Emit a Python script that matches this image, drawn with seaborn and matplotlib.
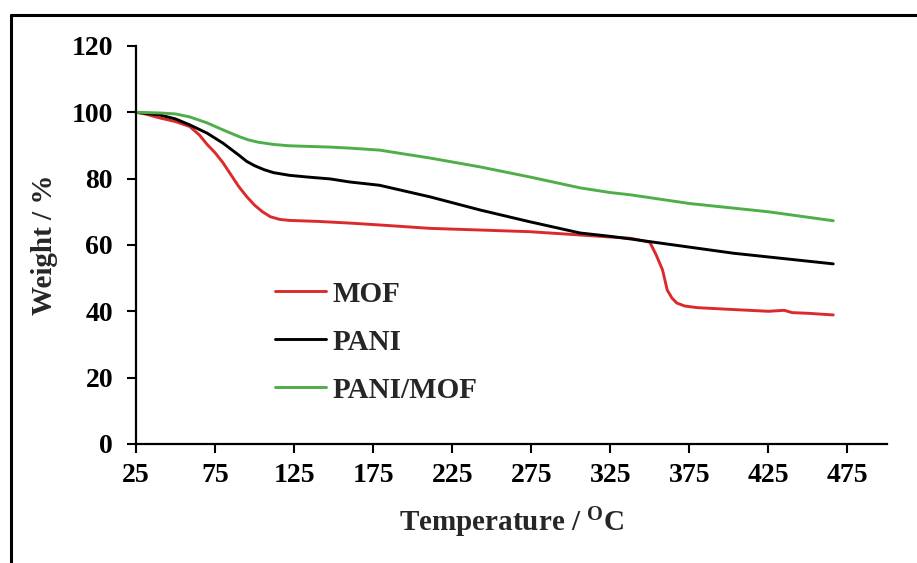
import matplotlib
matplotlib.use("Agg")
import matplotlib.pyplot as plt
import seaborn as sns
import pandas as pd
from matplotlib.lines import Line2D

# ---- data ----
mof_T = [25, 30, 40, 50, 59, 65, 70, 75, 80, 85, 90, 95, 100, 105, 110, 116, 122, 140, 160, 180, 211,
         243, 274, 306, 325, 338, 350, 354, 358, 361, 364, 367, 372, 380, 400, 425, 435, 440, 450, 466]
mof_W = [100, 99.6, 98.3, 97.2, 95.7, 93.2, 90.3, 87.8, 84.8, 81.2, 77.6, 74.6, 72.0, 70.0, 68.5, 67.7,
         67.4, 67.1, 66.6, 66.0, 65.0, 64.5, 64.0, 63.0, 62.4, 62.0, 60.8, 57.0, 52.5, 46.4, 44.0, 42.5,
         41.6, 41.1, 40.6, 40.0, 40.3, 39.6, 39.4, 38.9]

pani_T = [25, 40, 50, 59, 70, 80, 90, 95, 100, 106, 112, 122, 133, 148, 160, 179, 211, 243, 274, 306,
          325, 338, 350, 403, 466]
pani_W = [100, 99.2, 98.0, 96.2, 93.7, 90.7, 87.1, 85.2, 83.9, 82.7, 81.8, 81.0, 80.5, 79.9, 79.0, 78.0,
          74.5, 70.5, 67.0, 63.6, 62.6, 61.8, 61.0, 57.5, 54.3]

pm_T = [25, 40, 50, 59, 70, 80, 90, 96, 102, 112, 122, 148, 160, 179, 211, 243, 274, 306, 325, 338,
        375, 425, 466]
pm_W = [100, 99.8, 99.5, 98.6, 96.8, 94.7, 92.7, 91.7, 91.0, 90.3, 89.9, 89.5, 89.2, 88.6, 86.2, 83.5,
        80.5, 77.2, 75.8, 75.1, 72.5, 70.0, 67.3]

series = ["MOF", "PANI", "PANI/MOF"]
colors = ["#dc2a2c", "#000000", "#4fae48"]

x_ticks = [25, 75, 125, 175, 225, 275, 325, 375, 425, 475]
y_ticks = [0, 20, 40, 60, 80, 100, 120]

df = pd.concat([
    pd.DataFrame({"T": mof_T, "W": mof_W, "s": "MOF"}),
    pd.DataFrame({"T": pani_T, "W": pani_W, "s": "PANI"}),
    pd.DataFrame({"T": pm_T, "W": pm_W, "s": "PANI/MOF"}),
])

sns.set_theme(style="white")
plt.rcParams["font.family"] = ["Liberation Serif", "DejaVu Serif"]
plt.rcParams["font.weight"] = "bold"
plt.rcParams["mathtext.fontset"] = "custom"
plt.rcParams["mathtext.rm"] = "Liberation Serif:bold"
plt.rcParams["mathtext.bf"] = "Liberation Serif:bold"
plt.rcParams["mathtext.it"] = "Liberation Serif:bold"

fig = plt.figure(figsize=(9.17, 5.63), dpi=100)
ax = fig.add_axes([0.1483, 0.2114, 0.819, 0.707])

sns.lineplot(data=df, x="T", y="W", hue="s", palette=dict(zip(series, colors)),
             hue_order=series, sort=False, estimator=None, linewidth=2.1, ax=ax, legend=False)

ax.set_xlim(25, 500)
ax.set_ylim(0, 120)
ax.set_xticks(x_ticks)
ax.set_yticks(y_ticks)
ax.tick_params(axis="both", direction="out", length=6.5, width=1.5, labelsize=20, color="black",
               labelcolor="black", bottom=True, left=True)
ax.tick_params(axis="y", pad=10)
ax.tick_params(axis="x", pad=7)
for lab in ax.get_xticklabels() + ax.get_yticklabels():
    lab.set_fontweight("bold")

for side in ["top", "right"]:
    ax.spines[side].set_visible(False)
for side in ["left", "bottom"]:
    ax.spines[side].set_linewidth(1.6)
    ax.spines[side].set_color("black")

ax.set_xlabel(r"Temperature / $^{\mathrm{O}}$C", fontsize=21, fontweight="bold", labelpad=13)
ax.set_ylabel("Weight / %", fontsize=21, fontweight="bold", labelpad=10)

handles = [Line2D([], [], color=c, linewidth=2.1) for c in colors]
ax.legend(handles, series, loc="upper left", bbox_to_anchor=(0.17, 0.44), frameon=False,
          prop={"weight": "bold", "size": 21}, handlelength=1.75, handletextpad=0.2,
          labelspacing=0.72, borderaxespad=0)

# figure border (left and top edges)
fig.add_artist(Line2D([11 / 917, 11 / 917], [0, 1 - 15 / 563], transform=fig.transFigure,
                      color="black", linewidth=2.2))
fig.add_artist(Line2D([11 / 917, 1], [1 - 15 / 563, 1 - 15 / 563], transform=fig.transFigure,
                      color="black", linewidth=2.2))

fig.savefig("out.png", dpi=100)
